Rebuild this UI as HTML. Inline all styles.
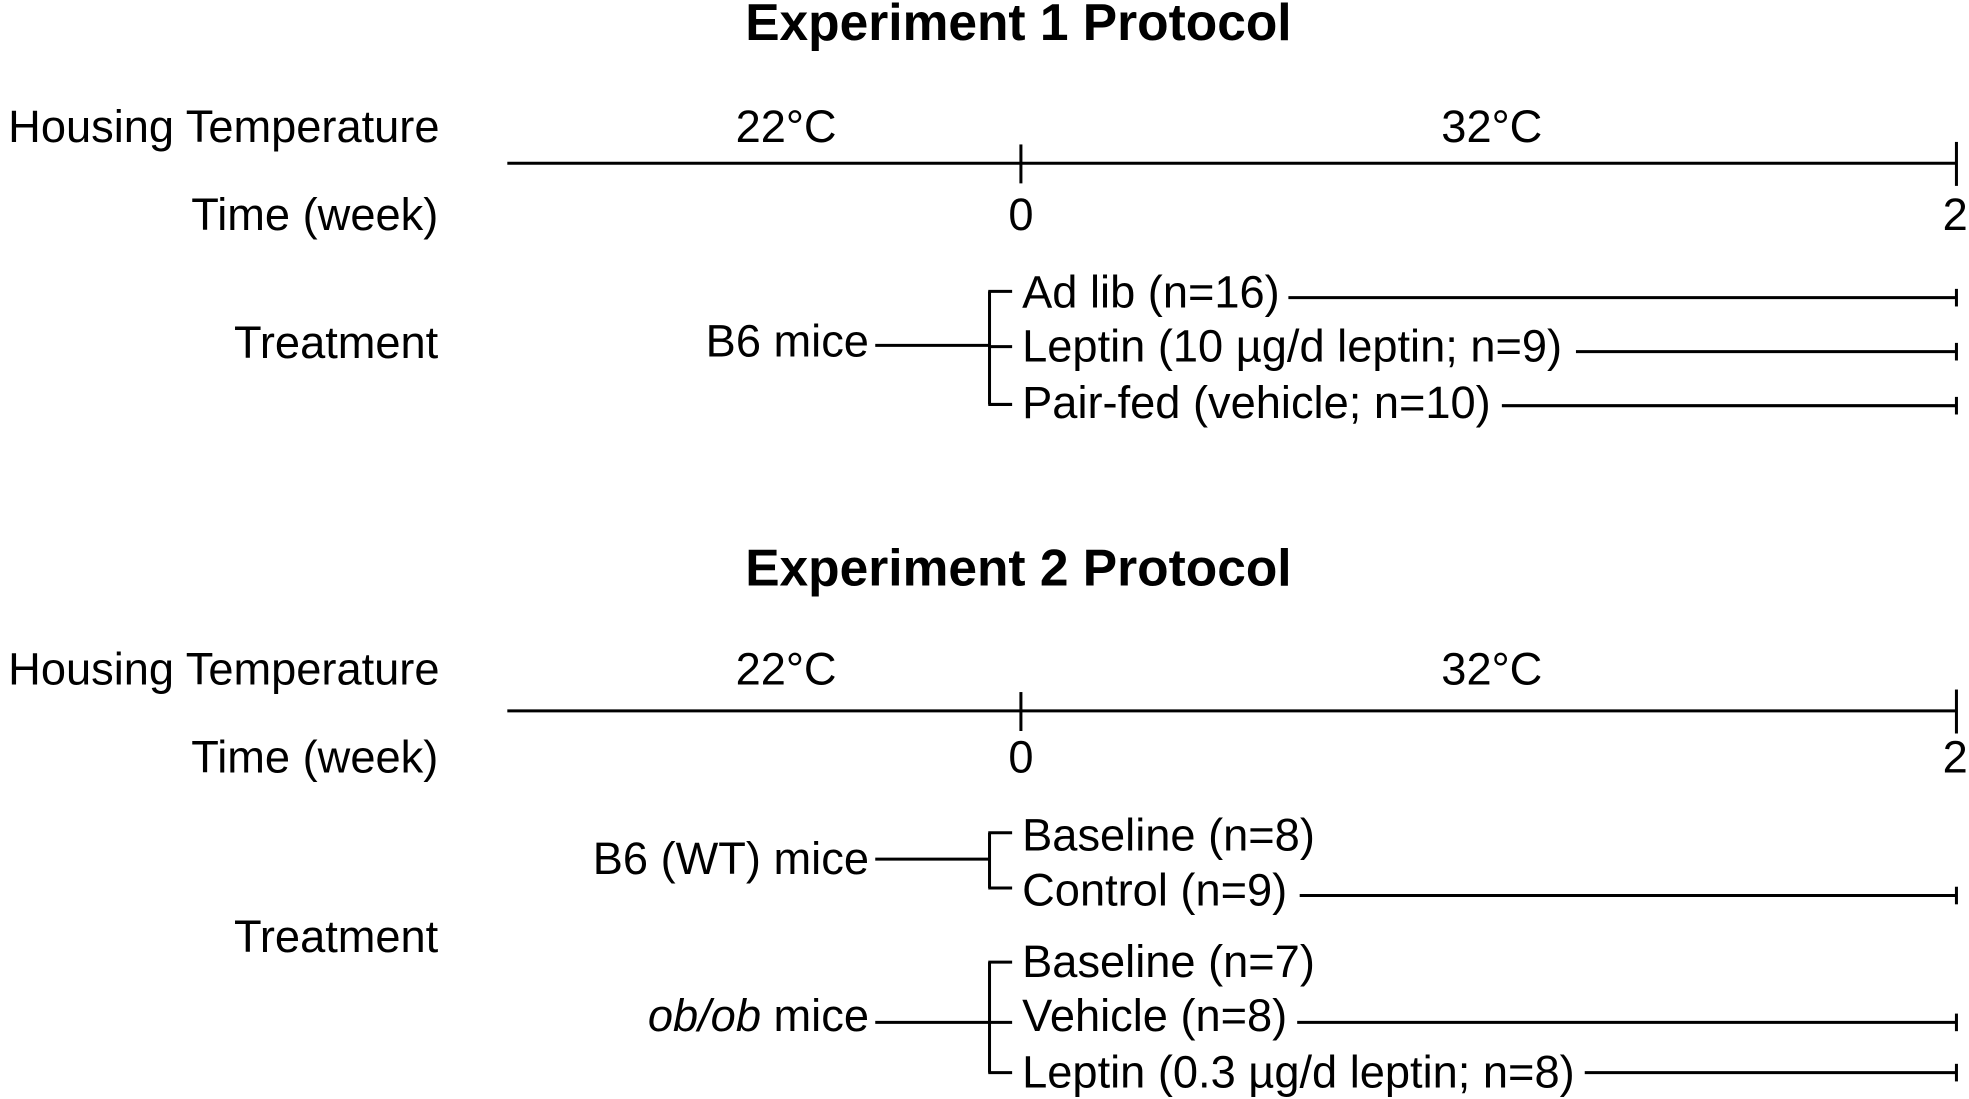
<!DOCTYPE html>
<html><head><meta charset="utf-8"><style>
html,body{margin:0;padding:0;background:#fff;}
svg{display:block;}
text{font-family:"Liberation Sans",Arial,sans-serif;fill:#000;}
</style></head><body>
<svg id="chart" width="1969" height="1099" viewBox="0 0 1568 875" preserveAspectRatio="none" xmlns="http://www.w3.org/2000/svg"></svg>
<script>
// Data
const weekTicks = [0, 2];
const tempLabels = ["22°C", "32°C"];
const exp1Groups = ["B6 mice"];
const exp1Arms = ["Ad lib (n=16)", "Leptin (10 µg/d leptin; n=9)", "Pair-fed (vehicle; n=10)"];
const exp1ArmRunsToEnd = [true, true, true];
const exp2GroupsWT = ["B6 (WT) mice"];
const exp2ArmsWT = ["Baseline (n=8)", "Control (n=9)"];
const exp2ArmsWTRuns = [false, true];
const exp2ArmsOb = ["Baseline (n=7)", "Vehicle (n=8)", "Leptin (0.3 µg/d leptin; n=8)"];
const exp2ArmsObRuns = [false, true, true];

const svg = document.getElementById('chart');
const NS = 'http://www.w3.org/2000/svg';
const xWeek = w => 813 + (1558 - 813) * w / 2;

function txt(s, x, y, anchor, opts) {
  const t = document.createElementNS(NS, 'text');
  t.setAttribute('x', x); t.setAttribute('y', y);
  t.setAttribute('text-anchor', anchor);
  t.setAttribute('font-size', (opts && opts.size) || 36);
  if (opts && opts.bold) t.setAttribute('font-weight', 'bold');
  t.textContent = s;
  svg.appendChild(t);
  return t;
}
function ln(x1, y1, x2, y2) {
  const l = document.createElementNS(NS, 'line');
  l.setAttribute('x1', x1); l.setAttribute('y1', y1);
  l.setAttribute('x2', x2); l.setAttribute('y2', y2);
  l.setAttribute('stroke', '#000'); l.setAttribute('stroke-width', 2.4);
  svg.appendChild(l);
  return l;
}

function timeline(titleText, titleY, tempY, axisY, timeY, idx) {
  let t = txt(titleText, 811, titleY, 'middle', {bold: true, size: 41});
  
  
  t = txt('Housing Temperature', 350, tempY, 'end');
  
  
  t = txt(tempLabels[0], 626, tempY, 'middle');
  
  
  t = txt(tempLabels[1], 1188, tempY, 'middle');
  
  
  let l = ln(404, axisY, xWeek(weekTicks[weekTicks.length - 1]), axisY);
  
  
  weekTicks.forEach((w, i) => {
    const tk = ln(xWeek(w), axisY - (i ? 17 : 15), xWeek(w), axisY + (i ? 18 : 16));
    
    
    const tl = txt(String(w), xWeek(w) - (i ? 1 : 0), timeY, 'middle');
    
    
  });
  t = txt('Time (week)', 349, timeY, 'end');
  
  
}

function branch(groupLabel, italicPart, groupY, groupTextY, arms, runs, armYs, stubYs, runYs, lineStarts) {
  const bx = 788;
  let t;
  if (italicPart) {
    t = document.createElementNS(NS, 'text');
    t.setAttribute('x', 692); t.setAttribute('y', groupTextY + 13);
    t.setAttribute('text-anchor', 'end'); t.setAttribute('font-size', 36);
    const a = document.createElementNS(NS, 'tspan');
    a.setAttribute('font-style', 'italic'); a.textContent = italicPart;
    const b = document.createElementNS(NS, 'tspan');
    b.textContent = groupLabel;
    t.appendChild(a); t.appendChild(b); svg.appendChild(t);
  } else {
    t = txt(groupLabel, 692, groupTextY + 13, 'end');
  }
  
  
  let l = ln(697, groupY, bx, groupY);
  
  
  l = ln(bx, stubYs[0], bx, stubYs[stubYs.length - 1]);
  
  
  arms.forEach((a, i) => {
    const s = ln(bx - 1, stubYs[i], 806, stubYs[i]);
    
    
    const at = txt(a, 814, armYs[i] + 13, 'start');
    
    
    if (runs[i]) {
      const endX = xWeek(weekTicks[weekTicks.length - 1]);
      const r = ln(lineStarts[i], runYs[i], endX, runYs[i]);
      
      
      const e = ln(endX, runYs[i] - 7, endX, runYs[i] + 7);
      
      
    }
  });
}

// Experiment 1
timeline('Experiment 1 Protocol', 32, 113, 130, 183, 1);
let tr = txt('Treatment', 349, 285, 'end');


branch(exp1Groups[0], null, 275, 271, exp1Arms, exp1ArmRunsToEnd, [232, 275, 320], [232, 276, 322], [237, 280, 323], [1026, 1255, 1196]);

// Experiment 2
timeline('Experiment 2 Protocol', 466, 545, 566, 615, 2);
tr = txt('Treatment', 349, 758, 'end');


branch(exp2GroupsWT[0], null, 684, 683, exp2ArmsWT, exp2ArmsWTRuns, [664, 708], [663, 707], [663, 713], [0, 1035]);
branch(' mice', 'ob/ob', 814, 808, exp2ArmsOb, exp2ArmsObRuns, [765, 808, 853], [766, 814, 854], [766, 814, 854], [0, 1033, 1262]);
</script>
</body></html>
